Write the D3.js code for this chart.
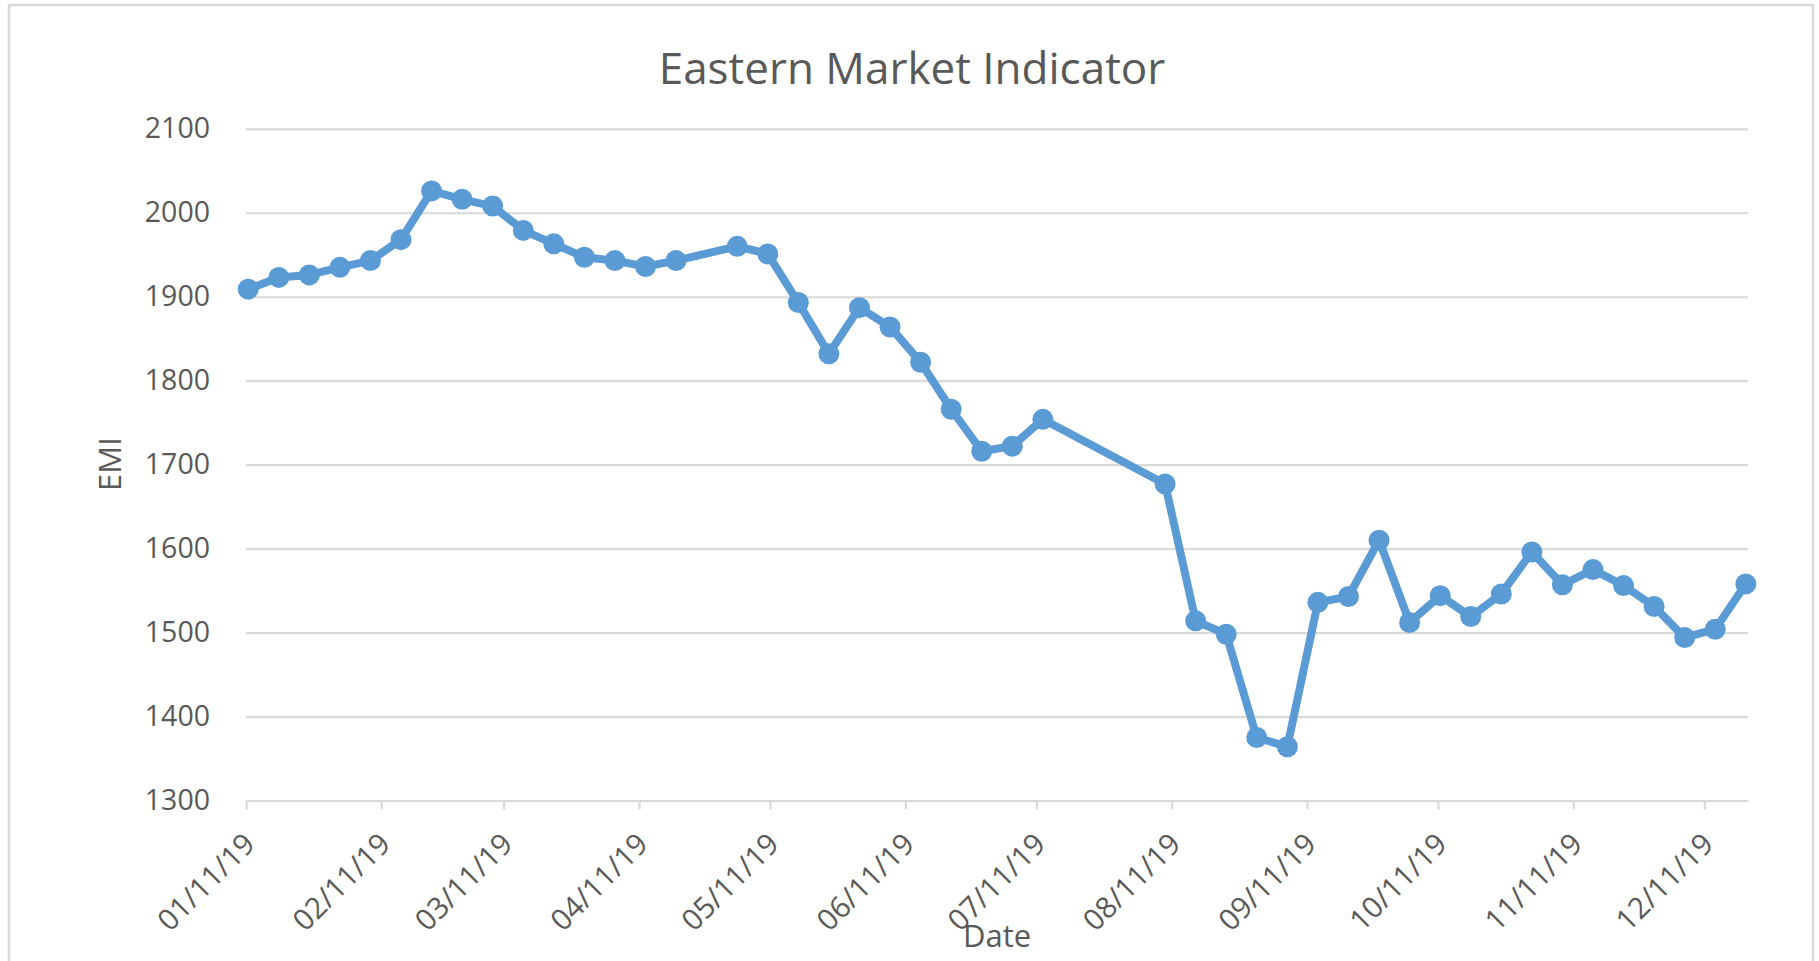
<!DOCTYPE html>
<html>
<head>
<meta charset="utf-8">
<script src="https://cdn.jsdelivr.net/npm/d3@7"></script>
<style>
  html, body { margin: 0; padding: 0; background: #ffffff; }
  svg { display: block; }
  text { font-family: "Open Sans", "Noto Sans", sans-serif; }
</style>
</head>
<body>
<svg id="chart" width="1819" height="961"></svg>
<script>
// ---- data ----
const dates = [
  "2019-01-11","2019-01-18","2019-01-25","2019-02-01","2019-02-08","2019-02-15","2019-02-22",
  "2019-03-01","2019-03-08","2019-03-15","2019-03-22","2019-03-29","2019-04-05","2019-04-12",
  "2019-04-19","2019-05-03","2019-05-10","2019-05-17","2019-05-24","2019-05-31","2019-06-07",
  "2019-06-14","2019-06-21","2019-06-28","2019-07-05","2019-07-12","2019-08-09","2019-08-16",
  "2019-08-23","2019-08-30","2019-09-06","2019-09-13","2019-09-20","2019-09-27","2019-10-04",
  "2019-10-11","2019-10-18","2019-10-25","2019-11-01","2019-11-08","2019-11-15","2019-11-22",
  "2019-11-29","2019-12-06","2019-12-13","2019-12-20"
];
const emi = [
  1909, 1923, 1926, 1935, 1943, 1968, 2026,
  2016, 2008, 1979, 1963, 1947, 1943, 1936,
  1943, 1960, 1951, 1893, 1832, 1887, 1864,
  1822, 1766, 1716, 1722, 1754, 1677, 1514,
  1498, 1375, 1364, 1536, 1543, 1610, 1512,
  1544, 1519, 1546, 1596, 1557, 1575, 1556,
  1531, 1494, 1504, 1558
];
const xTickLabels = ["01/11/19","02/11/19","03/11/19","04/11/19","05/11/19","06/11/19",
                     "07/11/19","08/11/19","09/11/19","10/11/19","11/11/19","12/11/19"];
const yTicks = [1300, 1400, 1500, 1600, 1700, 1800, 1900, 2000, 2100];
const axisStart = "2019-01-11";
const axisEnd = "2019-12-21";
const titleText = "Eastern Market Indicator";
const xTitle = "Date";
const yTitle = "EMI";

// ---- layout ----
const svg = d3.select("#chart");
const W = 1819, H = 961;
const plot = { left: 246, right: 1748, top: 128.8, bottom: 800.5 };
const textColor = "#595959";
const gridColor = "#d9d9d9";
const lineColor = "#5b9bd5";

const parseISO = d3.utcParse("%Y-%m-%d");
const parseTick = d3.utcParse("%m/%d/%y");
const fmtTick = d3.utcFormat("%m/%d/%y");

const x = d3.scaleUtc()
  .domain([parseISO(axisStart), parseISO(axisEnd)])
  .range([plot.left, plot.right]);
const y = d3.scaleLinear()
  .domain([1300, 2100])
  .range([plot.bottom, plot.top]);

// background + border
svg.append("rect").attr("x", 0).attr("y", 0).attr("width", W).attr("height", H).attr("fill", "#fff");
svg.append("rect")
  .attr("x", 9).attr("y", 5).attr("width", 1804).attr("height", 1000)
  .attr("fill", "#fff").attr("stroke", gridColor).attr("stroke-width", 2.5);

// title
svg.append("text")
  .attr("x", 912).attr("y", 84)
  .attr("text-anchor", "middle")
  .attr("font-size", 44)
  .attr("fill", textColor)
  .text(titleText);

// gridlines + y axis labels
const yAxis = d3.axisLeft(y)
  .tickValues(yTicks)
  .tickSize(-(plot.right - plot.left))
  .tickPadding(36)
  .tickFormat(d3.format("d"));
const gy = svg.append("g")
  .attr("transform", `translate(${plot.left},0)`)
  .call(yAxis);
gy.select(".domain").remove();
gy.selectAll(".tick line").attr("stroke", gridColor).attr("stroke-width", 2.2);
gy.selectAll(".tick text")
  .attr("font-size", 28.5)
  .attr("fill", textColor)
  .attr("font-family", "Open Sans");

// x axis
const xTickDates = xTickLabels.map(parseTick);
const xAxis = d3.axisBottom(x)
  .tickValues(xTickDates)
  .tickSize(9)
  .tickFormat(fmtTick)
  .tickSizeOuter(0);
const gx = svg.append("g")
  .attr("transform", `translate(0,${plot.bottom})`)
  .call(xAxis);
gx.select(".domain").attr("stroke", gridColor).attr("stroke-width", 2.2);
gx.selectAll(".tick line").attr("stroke", gridColor).attr("stroke-width", 2.2);
gx.selectAll(".tick text")
  .attr("font-size", 29.5)
  .attr("fill", textColor)
  .attr("font-family", "Open Sans")
  .attr("text-anchor", "end")
  .attr("x", 0).attr("y", 0)
  .attr("dy", "0.35em")
  .attr("transform", "translate(3,38) rotate(-45)");

// axis titles
svg.append("text")
  .attr("x", (plot.left + plot.right) / 2).attr("y", 947)
  .attr("text-anchor", "middle")
  .attr("font-size", 31)
  .attr("fill", textColor)
  .text(xTitle);
svg.append("text")
  .attr("transform", `translate(121,464) rotate(-90)`)
  .attr("text-anchor", "middle")
  .attr("font-size", 31)
  .attr("fill", textColor)
  .text(yTitle);

// series
const data = dates.map((d, i) => ({ date: d3.utcHour.offset(parseISO(d), 12), v: emi[i] }));
const line = d3.line().x(d => x(d.date)).y(d => y(d.v));
svg.append("path")
  .datum(data)
  .attr("d", line)
  .attr("fill", "none")
  .attr("stroke", lineColor)
  .attr("stroke-width", 8)
  .attr("stroke-linejoin", "round")
  .attr("stroke-linecap", "round");
svg.append("g").selectAll("circle")
  .data(data)
  .join("circle")
  .attr("cx", d => x(d.date))
  .attr("cy", d => y(d.v))
  .attr("r", 10.5)
  .attr("fill", lineColor);
</script>
</body>
</html>
